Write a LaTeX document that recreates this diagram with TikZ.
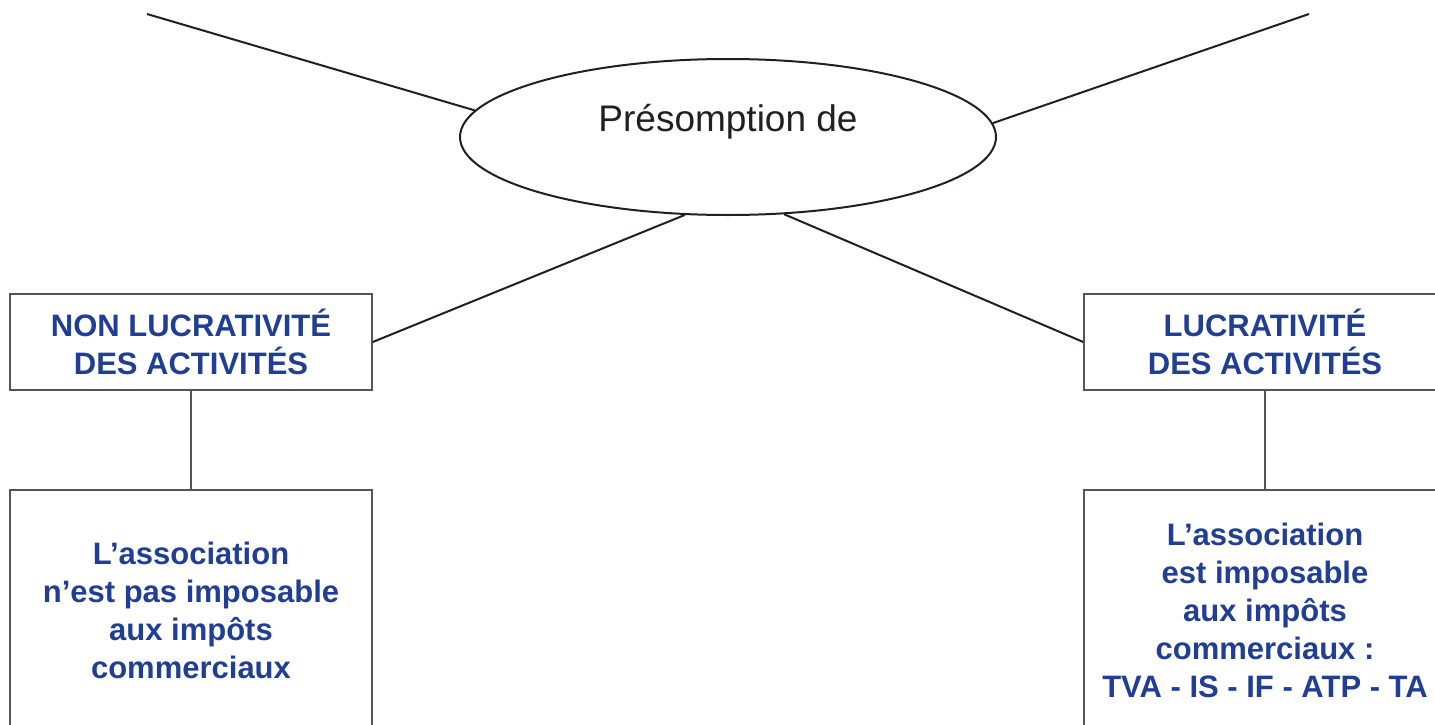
\documentclass[tikz,border=0pt]{standalone}
\usepackage{fontspec}
\setmainfont{Liberation Sans}
\usetikzlibrary{shapes.geometric}
\definecolor{txtblue}{RGB}{32,62,148}
\definecolor{boxgray}{RGB}{85,85,85}
\definecolor{ink}{RGB}{35,31,32}
\tikzset{
  x=1pt, y=1pt,
  box/.style={draw=boxgray, line width=1.5pt, minimum width=362pt, inner sep=0pt,
    align=center, text=txtblue, font=\fontsize{31}{38}\selectfont\bfseries},
  spoke/.style={draw=ink, line width=2pt},
  stem/.style={draw=boxgray, line width=1.5pt},
}
\begin{document}
\begin{tikzpicture}
\useasboundingbox (0,0) rectangle (1435,-725);

% central ellipse and its caption
\node[ellipse, draw=ink, line width=2pt, minimum width=536pt, minimum height=156pt, inner sep=0pt] (e) at (728,-137) {};
\node[font=\fontsize{37}{44}\selectfont, text=ink, inner sep=0pt] (cap) at (728,-122) {Présomption de};

% upper spokes
\coordinate (tl) at (147,-14);
\coordinate (tr) at (1309,-14);
\draw[spoke] (tl) -- (e.174.6);
\draw[spoke] (tr) -- (e.3.6);

% headline boxes
\node[box, minimum height=96pt] (nl) at (191,-342) {NON LUCRATIVITÉ\\DES ACTIVITÉS};
\node[box, minimum height=96pt] (lu) at (1265,-342) {LUCRATIVITÉ\\DES ACTIVITÉS};

% lower boxes
\node[box, minimum height=240pt] (nli) at (191,-610) {L’association\\n’est pas imposable\\aux impôts\\commerciaux};
\node[box, minimum height=240pt] (lui) at (1265,-610) {L’association\\est imposable\\aux impôts\\commerciaux :\\TVA - IS - IF - ATP - TA};

% links
\draw[spoke] (e.241.4) -- (nl.east);
\draw[spoke] (e.306.9) -- (lu.west);
\draw[stem] (nl.south) -- (nli.north);
\draw[stem] (lu.south) -- (lui.north);
\end{tikzpicture}
\end{document}
